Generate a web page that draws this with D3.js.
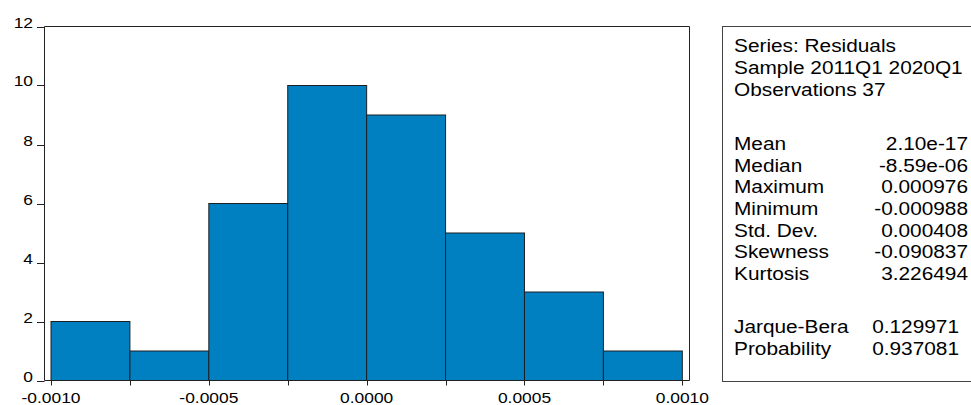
<!DOCTYPE html>
<html>
<head>
<meta charset="utf-8">
<script src="https://cdn.jsdelivr.net/npm/d3@7/dist/d3.min.js"></script>
<style>
  html, body { margin: 0; padding: 0; background: #fff; }
  svg { display: block; }
  text { font-family: "Liberation Sans", Arial, Helvetica, sans-serif; fill: #000; }
</style>
</head>
<body>
<script>
// ---- data ----
const binStarts = [-0.001, -0.00075, -0.0005, -0.00025, 0, 0.00025, 0.0005, 0.00075];
const binWidth = 0.00025;
const counts = [2, 1, 6, 10, 9, 5, 3, 1];
const xTickValues = [-0.001, -0.0005, 0, 0.0005, 0.001];
const xTickLabels = ["-0.0010", "-0.0005", "0.0000", "0.0005", "0.0010"];
const xMinorTicks = [-0.001, -0.00075, -0.0005, -0.00025, 0, 0.00025, 0.0005, 0.00075, 0.001];
const yTickValues = [0, 2, 4, 6, 8, 10, 12];
const headerLines = ["Series: Residuals", "Sample 2011Q1 2020Q1", "Observations 37"];
const statNames = ["Mean", "Median", "Maximum", "Minimum", "Std. Dev.", "Skewness", "Kurtosis"];
const statValues = ["2.10e-17", "-8.59e-06", "0.000976", "-0.000988", "0.000408", "-0.090837", "3.226494"];
const testNames = ["Jarque-Bera", "Probability"];
const testValues = ["0.129971", "0.937081"];

// ---- layout ----
const W = 971, H = 405;
const frame = { left: 44.5, top: 26.5, right: 689.5, bottom: 380.5 };
const SX = 1.2; // horizontal stretch of the glyphs

const svg = d3.select("body").append("svg").attr("width", W).attr("height", H);

const x = d3.scaleLinear().domain([-0.001, 0.001]).range([51, 682.3]);
const y = d3.scaleLinear().domain([0, 12]).range([380.5, 26.5]);

function stretchedText(sel, px, py, str, size, anchor, sx) {
  const g = sel.append("g").attr("transform", `translate(${px},${py}) scale(${sx || SX},1)`);
  g.append("text").attr("x", 0).attr("y", 0)
    .attr("font-size", size).attr("text-anchor", anchor || "start").text(str);
  return g;
}

// bars
svg.append("g").selectAll("rect").data(binStarts).join("rect")
  .attr("x", (d) => x(d))
  .attr("y", (d, i) => y(counts[i]))
  .attr("width", (d) => x(d + binWidth) - x(d))
  .attr("height", (d, i) => y(0) - y(counts[i]))
  .attr("fill", "#0080c0")
  .attr("stroke", "#1b1f24")
  .attr("stroke-width", 1);

// frame: top, left, right
svg.append("path")
  .attr("d", `M${frame.left},${frame.bottom} V${frame.top} H${frame.right} V${frame.bottom}`)
  .attr("fill", "none").attr("stroke", "#222").attr("stroke-width", 1);
// bottom axis line
svg.append("line")
  .attr("x1", frame.left).attr("x2", frame.right)
  .attr("y1", frame.bottom).attr("y2", frame.bottom)
  .attr("stroke", "#222").attr("stroke-width", 1);

// y axis ticks and labels
const yAxis = svg.append("g");
yAxis.selectAll("line").data(yTickValues).join("line")
  .attr("x1", 37).attr("x2", frame.left)
  .attr("y1", (d) => Math.round(y(d)) + 0.5).attr("y2", (d) => Math.round(y(d)) + 0.5)
  .attr("stroke", "#222");
yTickValues.forEach((d) => stretchedText(yAxis, 33, Math.round(y(d)) + 1, String(d), 14.5, "end"));

// x axis ticks and labels
const xAxis = svg.append("g");
xAxis.selectAll("line").data(xMinorTicks).join("line")
  .attr("x1", (d) => Math.round(x(d)) + 0.5).attr("x2", (d) => Math.round(x(d)) + 0.5)
  .attr("y1", frame.bottom).attr("y2", frame.bottom + 5)
  .attr("stroke", "#222");
xTickValues.forEach((d, i) => stretchedText(xAxis, x(d), 402.5, xTickLabels[i], 14.5, "middle"));

// stats box
svg.append("rect")
  .attr("x", 722.5).attr("y", 26.5).attr("width", 300).attr("height", 355)
  .attr("fill", "#fff").attr("stroke", "#444").attr("stroke-width", 1);

const stats = svg.append("g");
const lx = 734, rx = 968, rx2 = 959;
const fs = 17.5, ssx = 1.19;
headerLines.forEach((t, i) => stretchedText(stats, lx, 52 + i * 22, t, fs, "start", ssx));
statNames.forEach((t, i) => {
  stretchedText(stats, lx, 150 + i * 21.67, t, fs, "start", ssx);
  stretchedText(stats, rx, 150 + i * 21.67, statValues[i], fs, "end", ssx);
});
testNames.forEach((t, i) => {
  stretchedText(stats, lx, 333 + i * 21.67, t, fs, "start", ssx);
  stretchedText(stats, rx2, 333 + i * 21.67, testValues[i], fs, "end", ssx);
});
</script>
</body>
</html>
